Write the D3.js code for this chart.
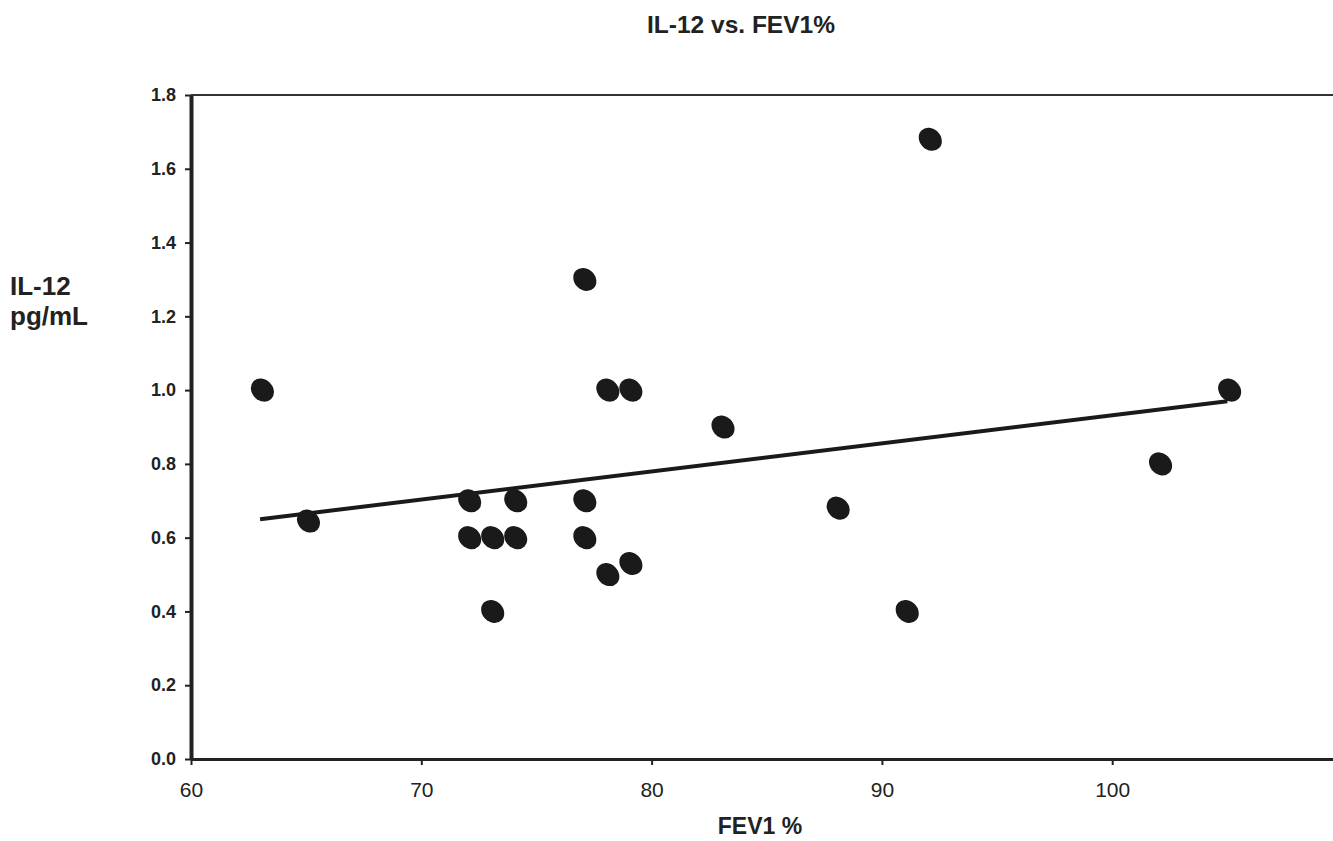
<!DOCTYPE html>
<html><head><meta charset="utf-8">
<script src="https://cdn.jsdelivr.net/npm/d3@7"></script>
<style>body{margin:0;background:#fff}svg{display:block}</style>
</head><body>
<svg id="c" width="1333" height="841"></svg>
<script>
const fev1 = [63,65,72,72,73,73,74,74,77,77,77,78,78,79,79,83,88,91,92,102,105];
const il12 = [1.0,0.645,0.70,0.60,0.60,0.40,0.70,0.60,1.30,0.70,0.60,1.0,0.50,1.0,0.53,0.90,0.68,0.40,1.68,0.80,1.0];
const trendX = [63,105];
const trendY = [0.65,0.97];
const xTicks = [60,70,80,90,100];
const yTicks = [0,0.2,0.4,0.6,0.8,1.0,1.2,1.4,1.6,1.8];

const svg = d3.select("#c");
const x = d3.scaleLinear().domain([60,110]).range([191,1342.5]);
const y = d3.scaleLinear().domain([0,1.8]).range([759,95]);

// top frame line
svg.append("line").attr("x1",191).attr("x2",1333).attr("y1",y(1.8)).attr("y2",y(1.8))
  .attr("stroke","#333").attr("stroke-width",2);

const xa = svg.append("g").attr("transform",`translate(0,${y(0)})`)
  .call(d3.axisBottom(x).tickValues(xTicks).tickSize(6).tickSizeOuter(0).tickFormat(d3.format("d")));
xa.select(".domain").attr("stroke","#222").attr("stroke-width",3);
xa.selectAll(".tick line").attr("stroke","#222").attr("stroke-width",2);
xa.selectAll(".tick text").attr("font-family","'Liberation Sans', Arial, sans-serif").attr("font-size",21)
  .attr("fill","#222").attr("y",38).attr("dy",0);

const ya = svg.append("g").attr("transform",`translate(${x(60)},0)`)
  .call(d3.axisLeft(y).tickValues(yTicks).tickSize(6).tickSizeOuter(0).tickFormat(d3.format(".1f")));
ya.select(".domain").attr("stroke","#222").attr("stroke-width",4);
ya.selectAll(".tick line").attr("stroke","#222").attr("stroke-width",2);
ya.selectAll(".tick text").attr("font-family","'Liberation Sans', Arial, sans-serif").attr("font-weight","bold")
  .attr("font-size",18).attr("fill","#222").attr("x",-15);

// trend line
svg.append("line").attr("x1",x(trendX[0])).attr("y1",y(trendY[0]))
  .attr("x2",x(trendX[1])).attr("y2",y(trendY[1]))
  .attr("stroke","#1a1a1a").attr("stroke-width",4);

// markers (elongated blobs)
const pts = fev1.map((v,i)=>({x:v,y:il12[i]}));
const g = svg.append("g");
pts.forEach(p=>{
  const cx = x(p.x) + 2.3, cy = y(p.y);
  g.append("ellipse").attr("cx",cx).attr("cy",cy).attr("rx",12.5).attr("ry",10.5)
    .attr("transform",`rotate(45,${cx},${cy})`).attr("fill","#1a1a1a");
});

svg.append("text").attr("x",741).attr("y",33).attr("text-anchor","middle")
  .attr("font-family","'Liberation Sans', Arial, sans-serif").attr("font-weight","bold").attr("font-size",24.5)
  .attr("fill","#222").text("IL-12 vs. FEV1%");
svg.append("text").attr("x",760).attr("y",834).attr("text-anchor","middle")
  .attr("font-family","'Liberation Sans', Arial, sans-serif").attr("font-weight","bold").attr("font-size",23)
  .attr("fill","#222").text("FEV1 %");
const yl = svg.append("text").attr("font-family","'Liberation Sans', Arial, sans-serif").attr("font-weight","bold")
  .attr("font-size",26).attr("fill","#222");
yl.append("tspan").attr("x",10).attr("y",295).text("IL-12");
yl.append("tspan").attr("x",10).attr("y",325).text("pg/mL");
</script>
</body></html>
